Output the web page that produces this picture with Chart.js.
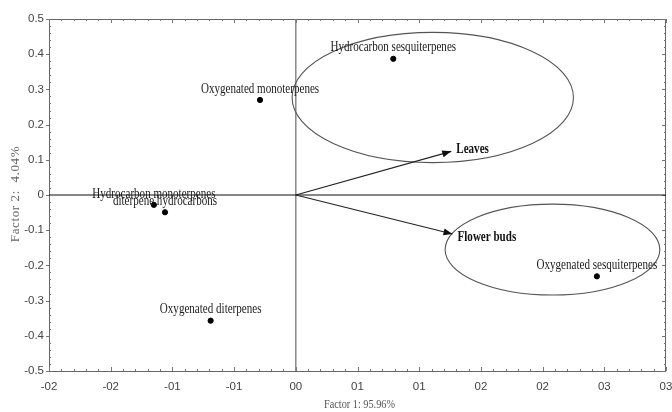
<!DOCTYPE html>
<html>
<head>
<meta charset="utf-8">
<script src="https://cdn.jsdelivr.net/npm/chart.js@4"></script>
<style>
  body { margin: 0; background: #fff; }
  #wrap { width: 672px; height: 412px; }
</style>
</head>
<body>
<div id="wrap"><canvas id="pca" width="672" height="412"></canvas></div>
<script>
// compound classes (scores)
const compounds = ['Hydrocarbon sesquiterpenes', 'Oxygenated monoterpenes', 'Hydrocarbon monoterpenes',
    'diterpene hydrocarbons', 'Oxygenated diterpenes', 'Oxygenated sesquiterpenes'];
const factor1 = [0.079, -0.029, -0.115, -0.106, -0.069, 0.244];
const factor2 = [0.387, 0.270, -0.028, -0.049, -0.357, -0.231];

// plant organs (loading arrows from origin)
const organs = ['Leaves', 'Flower buds'];
const organF1 = [0.126, 0.127];
const organF2 = [0.124, -0.111];

// grouping ellipses
const groupCx = [0.111, 0.208];
const groupCy = [0.277, -0.155];
const groupRx = [0.114, 0.087];
const groupRy = [0.185, 0.129];

// axis ticks
const xTickValues = [-0.2, -0.15, -0.1, -0.05, 0, 0.05, 0.1, 0.15, 0.2, 0.25, 0.3];
const xTickLabels = ['-02', '-02', '-01', '-01', '00', '01', '01', '02', '02', '03', '03'];
const yTickValues = [-0.5, -0.4, -0.3, -0.2, -0.1, 0, 0.1, 0.2, 0.3, 0.4, 0.5];
const yTickLabels = ['-0.5', '-0.4', '-0.3', '-0.2', '-0.1', '0', '0.1', '0.2', '0.3', '0.4', '0.5'];

const xTitle = 'Factor 1: 95.96%';
const yTitle = 'Factor 2:  4.04%';

// squeezed serif text, like the original figure
function squeezeText(ctx, text, x, y, font, color, align) {
    ctx.save();
    ctx.font = font;
    ctx.fillStyle = color;
    ctx.textAlign = align || 'center';
    ctx.textBaseline = 'middle';
    ctx.translate(x, y);
    ctx.scale(0.79, 1);
    ctx.fillText(text, 0, 0);
    ctx.restore();
}

const pcaDecor = {
    id: 'pcaDecor',
    beforeDatasetsDraw(chart) {
        const { ctx, chartArea: a, scales: { x, y } } = chart;
        ctx.save();

        // frame
        ctx.strokeStyle = '#666';
        ctx.lineWidth = 1;
        ctx.strokeRect(a.left + 0.5, a.top + 0.5, a.right - a.left - 1, a.bottom - a.top);

        // minor + major ticks, inside the frame
        ctx.strokeStyle = '#777';
        for (let i = 0; i < xTickValues.length; i++) {
            const step = i < xTickValues.length - 1 ? (xTickValues[i + 1] - xTickValues[i]) / 5 : 0;
            for (let k = 0; k < 5; k++) {
                if (k > 0 && !step) break;
                const px = Math.round(x.getPixelForValue(xTickValues[i] + k * step)) + 0.5;
                const len = k === 0 ? 4 : 2;
                ctx.beginPath();
                ctx.moveTo(px, a.bottom); ctx.lineTo(px, a.bottom - len);
                ctx.moveTo(px, a.top); ctx.lineTo(px, a.top + len);
                ctx.stroke();
            }
        }
        for (let i = 0; i < yTickValues.length; i++) {
            const step = i < yTickValues.length - 1 ? (yTickValues[i + 1] - yTickValues[i]) / 5 : 0;
            for (let k = 0; k < 5; k++) {
                if (k > 0 && !step) break;
                const py = Math.round(y.getPixelForValue(yTickValues[i] + k * step)) + 0.5;
                ctx.beginPath();
                ctx.moveTo(a.left, py); ctx.lineTo(a.left + (k === 0 ? 0 : 2), py);
                ctx.moveTo(a.right, py); ctx.lineTo(a.right - (k === 0 ? 4 : 2), py);
                ctx.stroke();
                if (k === 0) {
                    ctx.beginPath();
                    ctx.moveTo(a.left - 3, py); ctx.lineTo(a.left, py);
                    ctx.stroke();
                }
            }
        }

        // zero lines
        const x0 = x.getPixelForValue(0);
        const y0 = y.getPixelForValue(0);
        ctx.strokeStyle = '#808080';
        ctx.lineWidth = 1.4;
        ctx.beginPath();
        ctx.moveTo(x0, a.top); ctx.lineTo(x0, a.bottom);
        ctx.stroke();
        ctx.strokeStyle = '#111';
        ctx.lineWidth = 1.2;
        ctx.beginPath();
        ctx.moveTo(a.left, y0); ctx.lineTo(a.right, y0);
        ctx.stroke();

        // ellipses
        ctx.strokeStyle = '#555';
        ctx.lineWidth = 1.1;
        for (let i = 0; i < groupCx.length; i++) {
            const cx = x.getPixelForValue(groupCx[i]);
            const cy = y.getPixelForValue(groupCy[i]);
            const rx = Math.abs(x.getPixelForValue(groupCx[i] + groupRx[i]) - cx);
            const ry = Math.abs(y.getPixelForValue(groupCy[i] + groupRy[i]) - cy);
            ctx.beginPath();
            ctx.ellipse(cx, cy, rx, ry, 0, 0, Math.PI * 2);
            ctx.stroke();
        }

        // arrows
        ctx.strokeStyle = '#222';
        ctx.fillStyle = '#111';
        ctx.lineWidth = 1.1;
        for (let i = 0; i < organs.length; i++) {
            const tx = x.getPixelForValue(organF1[i]);
            const ty = y.getPixelForValue(organF2[i]);
            const ang = Math.atan2(ty - y0, tx - x0);
            ctx.beginPath();
            ctx.moveTo(x0, y0); ctx.lineTo(tx, ty);
            ctx.stroke();
            ctx.beginPath();
            ctx.moveTo(tx, ty);
            ctx.lineTo(tx - 9 * Math.cos(ang) + 3.5 * Math.sin(ang), ty - 9 * Math.sin(ang) - 3.5 * Math.cos(ang));
            ctx.lineTo(tx - 9 * Math.cos(ang) - 3.5 * Math.sin(ang), ty - 9 * Math.sin(ang) + 3.5 * Math.cos(ang));
            ctx.closePath();
            ctx.fill();
        }
        ctx.restore();
    },
    afterDatasetsDraw(chart) {
        const { ctx, chartArea: a, scales: { x, y } } = chart;
        // point labels
        compounds.forEach((name, i) => {
            squeezeText(ctx, name, x.getPixelForValue(factor1[i]), y.getPixelForValue(factor2[i]) - 11,
                '14px "Liberation Serif", "Times New Roman", serif', '#1a1a1a');
        });
        // organ labels
        organs.forEach((name, i) => {
            const dy = organF2[i] > 0 ? -2 : 3;
            squeezeText(ctx, name, x.getPixelForValue(organF1[i]) + 5, y.getPixelForValue(organF2[i]) + dy,
                'bold 14px "Liberation Serif", "Times New Roman", serif', '#111', 'left');
        });
        // axis titles
        squeezeText(ctx, xTitle, (a.left + a.right) / 2 + 2, 405,
            '13px "Liberation Serif", "Times New Roman", serif', '#555');
        ctx.save();
        ctx.translate(16, (a.top + a.bottom) / 2 - 1);
        ctx.rotate(-Math.PI / 2);
        ctx.font = '13px "Liberation Serif", "Times New Roman", serif';
        ctx.fillStyle = '#666';
        ctx.textAlign = 'center';
        ctx.textBaseline = 'middle';
        ctx.letterSpacing = '0.6px';
        ctx.fillText(yTitle, 0, 0);
        ctx.restore();
    }
};

const tickFont = { family: '"Liberation Sans Narrow", "Arial Narrow", "Liberation Sans", sans-serif', size: 11.5 };

new Chart(document.getElementById('pca'), {
    type: 'scatter',
    data: {
        datasets: [{
            label: 'compounds',
            data: factor1.map((v, i) => ({ x: v, y: factor2[i] })),
            backgroundColor: '#000',
            borderColor: '#000',
            pointRadius: 2.6,
            pointHoverRadius: 2.6
        }]
    },
    options: {
        responsive: false,
        animation: false,
        layout: { padding: { top: 19, right: 6, left: 0, bottom: 0 } },
        plugins: {
            legend: { display: false },
            tooltip: { enabled: false }
        },
        scales: {
            x: {
                type: 'linear',
                min: -0.2,
                max: 0.3,
                afterBuildTicks: s => { s.ticks = xTickValues.map(v => ({ value: v })); },
                afterFit: s => { s.height = 41; s.paddingLeft = 0; s.paddingRight = 0; },
                grid: { display: false, drawTicks: false },
                border: { display: false },
                ticks: {
                    color: '#444',
                    font: tickFont,
                    padding: 9,
                    maxRotation: 0,
                    autoSkip: false,
                    callback: (v, i) => xTickLabels[i]
                }
            },
            y: {
                type: 'linear',
                min: -0.5,
                max: 0.5,
                afterBuildTicks: s => { s.ticks = yTickValues.map(v => ({ value: v })); },
                afterFit: s => { s.width = 49; s.paddingTop = 0; s.paddingBottom = 0; },
                grid: { display: false, drawTicks: false },
                border: { display: false },
                ticks: {
                    color: '#444',
                    font: tickFont,
                    padding: 5,
                    autoSkip: false,
                    callback: (v, i) => yTickLabels[i]
                }
            }
        }
    },
    plugins: [pcaDecor]
});
</script>
</body>
</html>
